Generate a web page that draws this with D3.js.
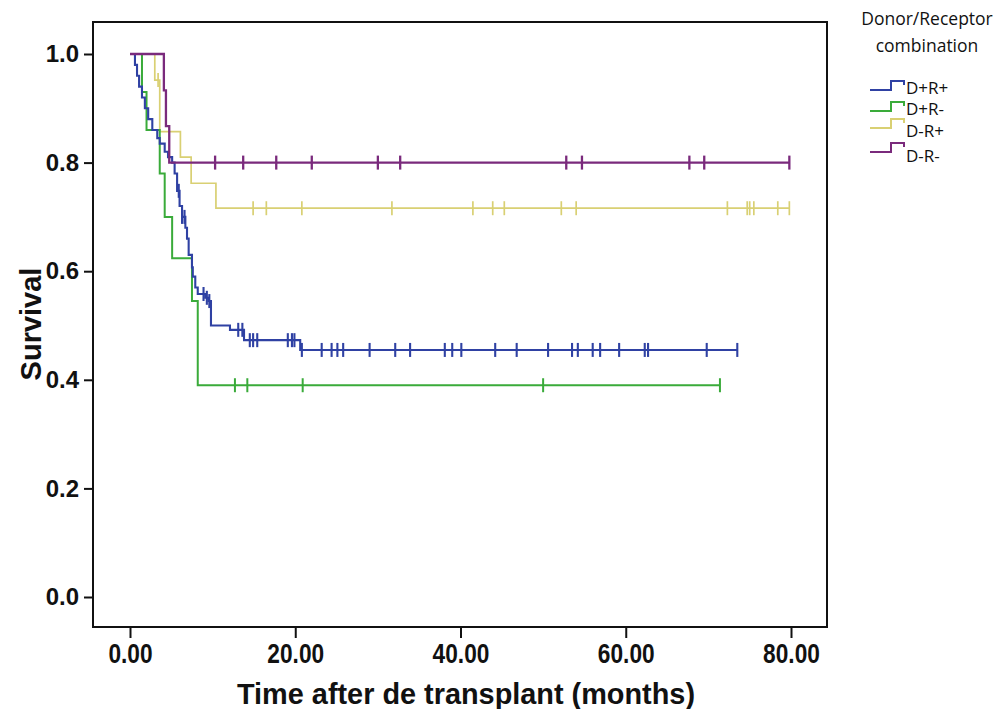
<!DOCTYPE html>
<html>
<head>
<meta charset="utf-8">
<script src="https://cdn.jsdelivr.net/npm/d3@7"></script>
<style>
  body { margin: 0; background: #fff; }
  svg { display: block; }
</style>
</head>
<body>
<svg></svg>
<script>
// groups and colours
let groups = ["D+R+", "D+R-", "D-R+", "D-R-"];
let colors = ["#2f41a3", "#3aab3a", "#d9d073", "#7a2a7c"];

// Kaplan-Meier step points (time in months, survival)
let blueTimes = [0, 0.6, 0.85, 1.1, 1.45, 1.8, 2.2, 2.7, 3.3, 3.6, 4.2, 4.6, 5.1, 5.4, 5.7, 6.0, 6.3, 6.7, 6.9, 7.1, 7.5, 7.6, 7.9, 8.2, 9.1, 9.5, 9.8, 12.1, 13.8, 20.6];
let blueSurv = [1, 0.98, 0.96, 0.94, 0.92, 0.9, 0.88, 0.86, 0.845, 0.835, 0.82, 0.81, 0.8, 0.78, 0.748, 0.72, 0.7, 0.68, 0.66, 0.63, 0.607, 0.59, 0.57, 0.558, 0.551, 0.545, 0.5, 0.492, 0.473, 0.455];
let blueCensor = [5.9, 6.3, 6.6, 8.9, 9.3, 9.6, 13.1, 13.6, 14.5, 14.9, 15.4, 19.1, 19.6, 19.9, 20.8, 23.2, 24.4, 25.1, 25.8, 29.0, 32.1, 33.9, 38.1, 39.0, 40.1, 44.2, 46.8, 50.6, 53.5, 54.2, 56.0, 56.9, 59.2, 62.3, 62.7, 69.8, 73.5];

let greenTimes = [0, 1.45, 2.0, 3.6, 4.2, 5.1, 7.5, 8.2];
let greenSurv = [1, 0.93, 0.86, 0.78, 0.7, 0.624, 0.545, 0.39];
let greenCensor = [12.7, 14.2, 20.9, 50.0, 71.4];

let yellowTimes = [0, 3.0, 3.6, 6.1, 7.4, 10.4];
let yellowSurv = [1, 0.952, 0.857, 0.81, 0.762, 0.716];
let yellowCensor = [3.4, 14.9, 16.5, 20.8, 31.7, 41.5, 43.9, 45.3, 52.2, 54.0, 72.3, 74.7, 75.0, 75.5, 78.4, 79.8];

let purpleTimes = [0, 4.1, 4.35, 4.75];
let purpleSurv = [1, 0.933, 0.867, 0.8];
let purpleCensor = [10.3, 13.7, 17.7, 22.0, 30.0, 32.7, 52.8, 54.7, 67.7, 69.5, 79.8];

let xTicks = [0, 20, 40, 60, 80];
let yTicks = [0, 0.2, 0.4, 0.6, 0.8, 1.0];

let width = 998;
let height = 709;

let svg = d3.select("svg").attr("width", width).attr("height", height);

let xScale = d3.scaleLinear().domain([0, 80]).range([130, 791]);
let yScale = d3.scaleLinear().domain([0, 1]).range([597, 54]);

// frame
svg.append("rect")
  .attr("x", 93).attr("y", 22)
  .attr("width", 734).attr("height", 605)
  .attr("fill", "none")
  .attr("stroke", "#111")
  .attr("stroke-width", 2);

// axes
let yAxis = d3.axisLeft(yScale)
  .tickValues(yTicks)
  .tickFormat(d3.format(".1f"))
  .tickSize(9)
  .tickPadding(5);

let gy = svg.append("g")
  .attr("transform", "translate(93,0)")
  .call(yAxis);
gy.select(".domain").remove();
gy.selectAll("line").attr("stroke", "#111").attr("stroke-width", 2);
gy.selectAll("text")
  .attr("font-family", "Liberation Sans, Arial, sans-serif")
  .attr("font-weight", "bold")
  .attr("font-size", 24)
  .attr("fill", "#111");

let xAxis = d3.axisBottom(xScale)
  .tickValues(xTicks)
  .tickFormat(d3.format(".2f"))
  .tickSize(10)
  .tickPadding(6);

let gx = svg.append("g")
  .attr("transform", "translate(0,628)")
  .call(xAxis);
gx.select(".domain").remove();
gx.selectAll("line").attr("stroke", "#111").attr("stroke-width", 2);
gx.selectAll("text")
  .attr("font-family", "Liberation Sans, Arial, sans-serif")
  .attr("font-weight", "bold")
  .attr("font-size", 27)
  .attr("fill", "#111")
  .attr("lengthAdjust", "spacingAndGlyphs")
  .attr("textLength", function () { return this.getComputedTextLength() * 0.84; });

// axis titles
svg.append("text")
  .attr("x", 466).attr("y", 704)
  .attr("text-anchor", "middle")
  .attr("font-family", "Liberation Sans, Arial, sans-serif")
  .attr("font-weight", "bold")
  .attr("font-size", 30)
  .attr("fill", "#111")
  .attr("lengthAdjust", "spacingAndGlyphs")
  .attr("textLength", 458)
  .text("Time after de transplant (months)");

svg.append("text")
  .attr("transform", "translate(41,324) rotate(-90)")
  .attr("text-anchor", "middle")
  .attr("font-family", "Liberation Sans, Arial, sans-serif")
  .attr("font-weight", "bold")
  .attr("font-size", 29)
  .attr("fill", "#111")
  .text("Survival");

// curves
let series = [
  { name: groups[2], color: colors[2], times: yellowTimes, surv: yellowSurv, censor: yellowCensor, w: 1.7 },
  { name: groups[1], color: colors[1], times: greenTimes, surv: greenSurv, censor: greenCensor, w: 2 },
  { name: groups[0], color: colors[0], times: blueTimes, surv: blueSurv, censor: blueCensor, w: 2.1 },
  { name: groups[3], color: colors[3], times: purpleTimes, surv: purpleSurv, censor: purpleCensor, w: 2.3 }
];

let survAt = (s, t) => {
  let i = d3.bisectRight(s.times, t) - 1;
  return s.surv[Math.max(0, i)];
};

let line = d3.line()
  .x(d => xScale(d[0]))
  .y(d => yScale(d[1]))
  .curve(d3.curveStepAfter);

series.forEach(s => {
  let pts = s.times.map((t, i) => [t, s.surv[i]]);
  let end = d3.max(s.censor);
  pts.push([end, s.surv[s.surv.length - 1]]);

  svg.append("path")
    .attr("d", line(pts))
    .attr("fill", "none")
    .attr("stroke", s.color)
    .attr("stroke-width", s.w);

  svg.append("g")
    .selectAll("line")
    .data(s.censor)
    .enter()
    .append("line")
    .attr("x1", d => xScale(d))
    .attr("x2", d => xScale(d))
    .attr("y1", d => yScale(survAt(s, d)) - 7)
    .attr("y2", d => yScale(survAt(s, d)) + 7)
    .attr("stroke", s.color)
    .attr("stroke-width", s.w);
});

// legend
let legend = svg.append("g");
legend.append("text")
  .attr("x", 927).attr("y", 25)
  .attr("text-anchor", "middle")
  .attr("font-family", "Open Sans, sans-serif")
  .attr("font-size", 17.5)
  .attr("fill", "#111")
  .text("Donor/Receptor");
legend.append("text")
  .attr("x", 927).attr("y", 52)
  .attr("text-anchor", "middle")
  .attr("font-family", "Open Sans, sans-serif")
  .attr("font-size", 17.5)
  .attr("fill", "#111")
  .text("combination");

let legendY = [90, 111, 128, 152];
let legendTextY = [94, 115, 137, 162];
groups.forEach((g, i) => {
  let ly = legendY[i];
  legend.append("path")
    .attr("d", `M870,${ly}H891V${ly - 9}H904V${ly - 5}`)
    .attr("fill", "none")
    .attr("stroke", colors[i])
    .attr("stroke-width", 2);
  legend.append("text")
    .attr("x", 906).attr("y", legendTextY[i])
    .attr("font-family", "Open Sans, sans-serif")
    .attr("font-size", 17)
    .attr("fill", "#111")
    .text(g);
});
</script>
</body>
</html>
